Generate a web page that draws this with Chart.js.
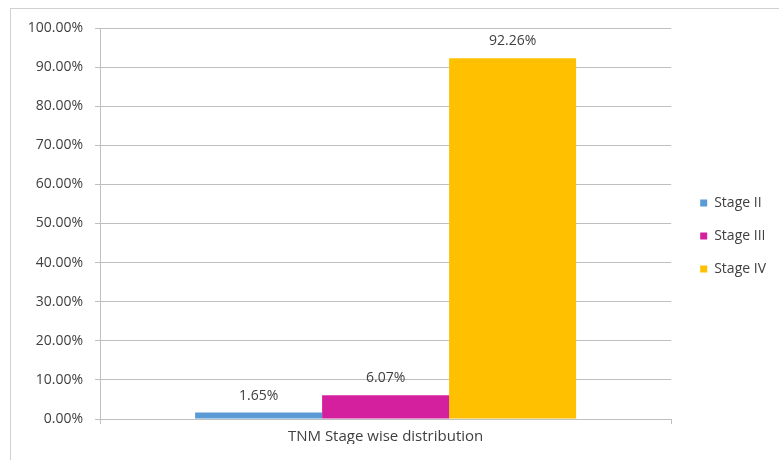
<!DOCTYPE html>
<html>
<head>
<meta charset="utf-8">
<script src="https://cdn.jsdelivr.net/npm/chart.js@4"></script>
<style>
html,body{margin:0;padding:0;background:#fff;}
#wrap{width:779px;height:460px;position:relative;}
</style>
</head>
<body>
<div id="wrap"><canvas id="c" width="779" height="460"></canvas></div>
<script>
const categories = ["TNM Stage wise distribution"];
const seriesNames = ["Stage II", "Stage III", "Stage IV"];
const stageII = [1.65];
const stageIII = [6.07];
const stageIV = [92.26];
const seriesColors = ["#5b9bd5", "#d4209e", "#ffc000"];
const yTicks = [0, 10, 20, 30, 40, 50, 60, 70, 80, 90, 100];

const FONT = "'Open Sans', 'Liberation Sans', Arial, sans-serif";

const borderPlugin = {
  id: 'outerBorder',
  beforeDraw(chart) {
    const ctx = chart.ctx;
    ctx.save();
    ctx.fillStyle = '#fff';
    ctx.fillRect(0, 0, chart.width, chart.height);
    ctx.strokeStyle = '#d0d0d0';
    ctx.lineWidth = 1;
    ctx.strokeRect(10.5, 8.5, 900, 600);
    ctx.restore();
  }
};

const labelPlugin = {
  id: 'barLabels',
  afterDatasetsDraw(chart) {
    const ctx = chart.ctx;
    ctx.save();
    ctx.font = '14px ' + FONT;
    ctx.fillStyle = '#404040';
    ctx.textAlign = 'center';
    ctx.textBaseline = 'middle';
    chart.data.datasets.forEach((ds, i) => {
      const meta = chart.getDatasetMeta(i);
      meta.data.forEach((bar, j) => {
        ctx.fillText(ds.data[j].toFixed(2) + '%', bar.x, bar.y - 17);
      });
    });
    ctx.restore();
  }
};

const allSeries = [stageII, stageIII, stageIV];

new Chart(document.getElementById('c'), {
  type: 'bar',
  data: {
    labels: categories,
    datasets: seriesNames.map((n, i) => ({
      label: n,
      data: allSeries[i],
      backgroundColor: seriesColors[i],
      borderWidth: 0,
      barPercentage: 1.0,
      categoryPercentage: 0.667
    }))
  },
  options: {
    responsive: false,
    animation: false,
    devicePixelRatio: 1,
    layout: { padding: { left: 10, top: 28, right: 3, bottom: 16 } },
    plugins: {
      legend: {
        position: 'right',
        align: 'center',
        labels: {
          boxWidth: 7,
          boxHeight: 7,
          padding: 19,
          color: '#404040',
          font: { size: 14, family: FONT }
        }
      },
      tooltip: { enabled: false }
    },
    scales: {
      x: {
        offset: true,
        grid: { display: true, drawOnChartArea: false, drawTicks: true, tickLength: 5, color: '#bfbfbf', offset: true },
        border: { display: true, color: '#bfbfbf' },
        ticks: { color: '#404040', font: { size: 15, family: FONT }, padding: 4 },
        afterFit(scale) { scale.height = 25; }
      },
      y: {
        min: 0,
        max: 100,
        afterBuildTicks(scale) { scale.ticks = yTicks.map(v => ({ value: v })); },
        grid: { color: '#bfbfbf', tickLength: 5 },
        border: { display: true, color: '#bfbfbf' },
        ticks: {
          color: '#404040',
          font: { size: 14, family: FONT },
          padding: 12,
          callback: v => v.toFixed(2) + '%'
        },
        afterFit(scale) { scale.width = 90; }
      },
      ySpacer: {
        position: 'right',
        display: true,
        min: 0,
        max: 100,
        grid: { display: false, drawTicks: false },
        border: { display: false },
        ticks: { display: false },
        afterFit(scale) { scale.width = 10; }
      }
    }
  },
  plugins: [borderPlugin, labelPlugin]
});
</script>
</body>
</html>
